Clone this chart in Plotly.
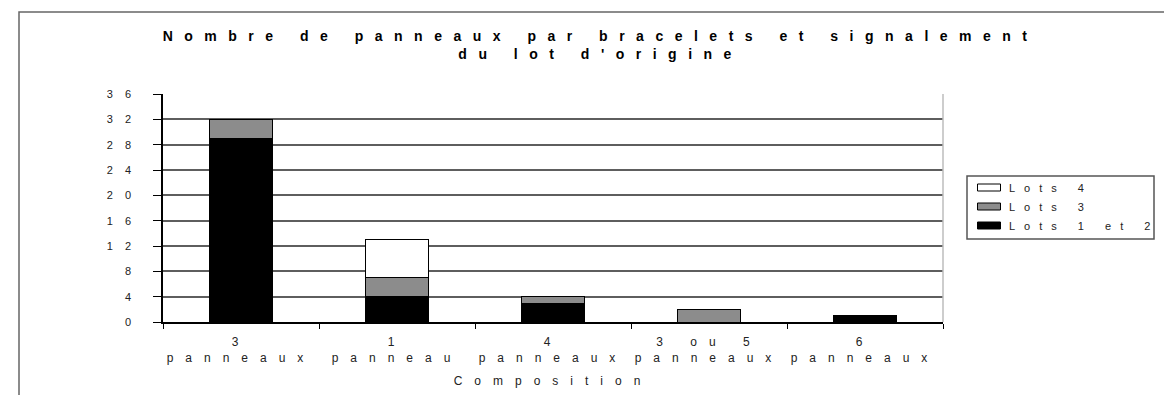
import plotly.graph_objects as go

# ---- data ----
categories = ["3<br>panneaux", "1<br>panneau", "4<br>panneaux", "3 ou 5<br>panneaux", "6<br>panneaux"]
lots_1_et_2 = [29, 4, 3, 0, 1]
lots_3 = [3, 3, 1, 2, 0]
lots_4 = [0, 6, 0, 0, 0]
series_names = ["Lots 1 et 2", "Lots 3", "Lots 4"]
y_ticks = [0, 4, 8, 12, 16, 20, 24, 28, 32, 36]

title_text = "Nombre de panneaux par bracelets et signalement<br>du lot d'origine"
x_title = "Composition"

# ---- geometry helpers (pixel -> paper) ----
W, H = 1164, 395
PL, PR, PT, PB = 163, 943, 94, 322


def px(x):
    return (x - PL) / (PR - PL)


def py(y):
    return (PB - y) / (PB - PT)


FONT = "Liberation Sans, Arial, sans-serif"
colors = ["#000000", "#8c8c8c", "#ffffff"]

fig = go.Figure()
for name, vals, col in zip(series_names, [lots_1_et_2, lots_3, lots_4], colors):
    fig.add_trace(go.Bar(
        x=categories, y=vals, name=name,
        marker=dict(color=col, line=dict(color="#000000", width=1)),
    ))

fig.update_layout(
    width=W, height=H,
    margin=dict(l=PL, r=W - PR, t=PT, b=H - PB, autoexpand=False),
    barmode="stack", bargap=0.6,
    paper_bgcolor="#ffffff", plot_bgcolor="#ffffff",
    font=dict(family=FONT, size=11, color="#222222"),
    title=dict(
        text=title_text, xref="container", x=0.516, xanchor="center",
        yref="container", y=1 - 41 / H, yanchor="top",
        font=dict(family="Liberation Sans Narrow, Arial Narrow, Liberation Sans, Arial, sans-serif",
                  size=14, color="#000000", weight="bold"),
    ),
    showlegend=True,
    legend=dict(
        x=px(969), y=py(173), xanchor="left", yanchor="top",
        bgcolor="rgba(0,0,0,0)", borderwidth=0, traceorder="reversed",
        font=dict(family=FONT, size=11, color="#222222"),
        tracegroupgap=0,
    ),
    xaxis=dict(
        showline=True, linecolor="#000000", linewidth=1.5,
        ticks="outside", ticklen=5, tickcolor="#000000", tickson="boundaries",
        showgrid=False, tickfont=dict(size=12, color="#222222"), ticklabelstandoff=8,
        title=dict(text=x_title, font=dict(size=12, color="#222222"), standoff=13),
    ),
    yaxis=dict(
        range=[0, 36], tickvals=y_ticks, ticktext=[str(v) for v in y_ticks],
        showline=True, linecolor="#000000", linewidth=1.5,
        ticks="outside", ticklen=8, tickcolor="#000000",
        showgrid=True, gridcolor="#5e5e5e", gridwidth=1.5, zeroline=False,
        tickfont=dict(size=11, color="#222222"), ticklabelstandoff=8,
    ),
    shapes=[
        # right border of plot area
        dict(type="line", xref="paper", yref="paper", x0=1, x1=1, y0=0, y1=1,
             line=dict(color="#bdbdbd", width=1.5)),
        # legend box
        dict(type="rect", xref="paper", yref="paper", x0=px(967), x1=px(1154),
             y0=py(239), y1=py(176), line=dict(color="#555555", width=1.5)),
        # outer chart frame
        dict(type="rect", xref="paper", yref="paper", x0=px(19), x1=px(1175),
             y0=py(410), y1=py(12), line=dict(color="#666666", width=1.5)),
    ],
)

post = """
document.body.style.margin = '0';
document.body.style.padding = '0';
var gd = document.getElementById('{plot_id}');
function sp(sel, v){ gd.querySelectorAll(sel).forEach(function(t){ t.style.letterSpacing = v; }); }
function apply(){
  sp('.gtitle', '11.5px');
  sp('.xtick text', '12px');
  sp('.ytick text', '12px');
  sp('.xtitle', '12px');
  sp('.legendtext', '9px');
  gd.querySelectorAll('.legend, .legend *').forEach(function(s){ s.removeAttribute('clip-path'); });
  gd.querySelectorAll('.legend .legendpoints path').forEach(function(p){ p.setAttribute('d','M11.5,3.5H-11.5V-3.5H11.5Z'); });
}
apply();
gd.on('plotly_afterplot', apply);
"""

fig.write_html("out.html", post_script=post, config={"displayModeBar": False})
